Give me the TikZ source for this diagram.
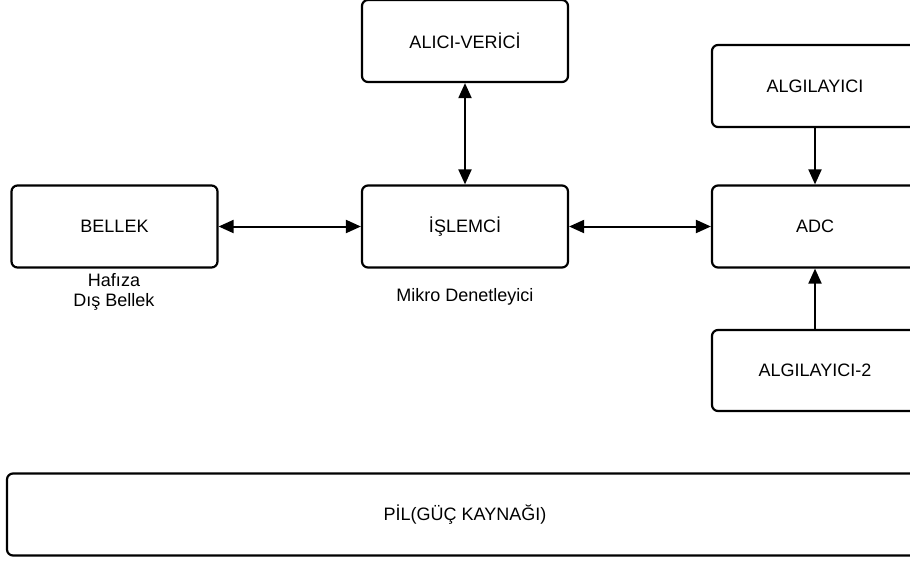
\documentclass[tikz,border=0pt]{standalone}
\usepackage{fontspec}
\setmainfont{Liberation Sans}
\usetikzlibrary{arrows.meta,positioning}

\tikzset{
    blok/.style={draw, line width=2.2pt, rounded corners=6pt, minimum width=206pt, minimum height=82pt, font=\fontsize{18}{21}\selectfont},
    etiket/.style={font=\fontsize{18}{20}\selectfont, align=center},
    ok/.style={line width=2pt}
}

\begin{document}
\begin{tikzpicture}[x=1pt, y=-1pt, >={Triangle[length=15pt,width=13pt]}]
    \useasboundingbox (0,0) rectangle (910,560);
    \clip (0,0) rectangle (910,560);
    \fill[white] (0,0) rectangle (910,560);

    % Ust satir
    \node[blok] (alici) at (465, 41) {ALICI-VERİCİ};
    \node[blok] (algi) at (815, 86) {ALGILAYICI};

    % Orta satir
    \node[blok] (bellek) at (114.5, 226.5) {BELLEK};
    \node[blok] (islemci) at (465, 226.5) {İŞLEMCİ};
    \node[blok] (adc) at (815, 226.5) {ADC};
    \node[blok, minimum height=81pt] (algi2) at (815, 370.5) {ALGILAYICI-2};

    % Alt aciklamalar
    \node[etiket] (hafiza) at (114, 292) {Hafıza\\Dış Bellek};
    \node[etiket] (mikro) at (465, 297) {Mikro Denetleyici};

    % Guc kaynagi
    \node[blok, minimum width=916pt] (pil) at (465, 514.5) {PİL(GÜÇ KAYNAĞI)};

    % Baglantilar
    \draw[ok, <->] (bellek) -- (islemci);
    \draw[ok, <->] (islemci) -- (adc);
    \draw[ok, <->] (alici) -- (islemci);
    \draw[ok, ->] (algi) -- (adc);
    \draw[ok, ->] (algi2) -- (adc);
\end{tikzpicture}
\end{document}
